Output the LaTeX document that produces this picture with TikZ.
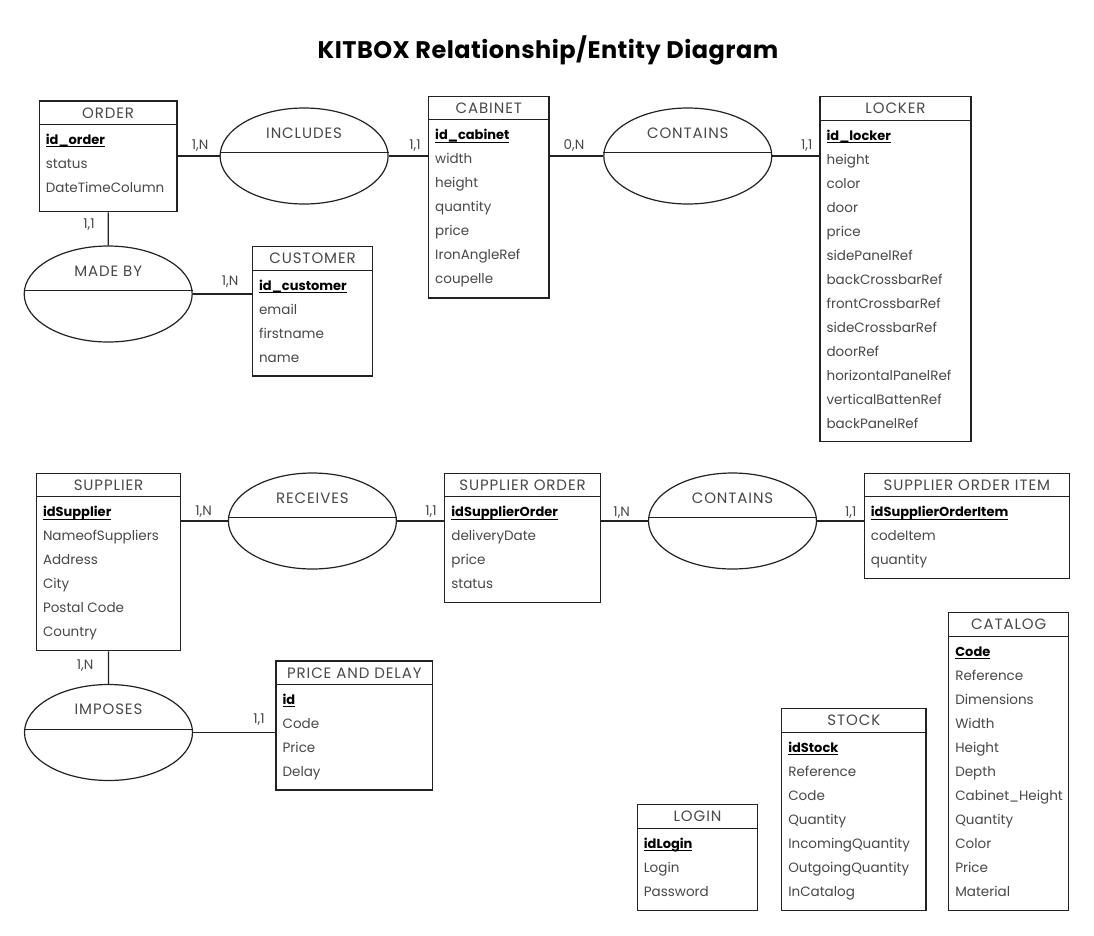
\documentclass[tikz,border=0pt]{standalone}
\usepackage{fontspec}
\setmainfont{Poppins}
\newfontfamily\hdrfont[LetterSpace=6]{Poppins}
\newfontfamily\ttlfont[LetterSpace=2]{Poppins}
\newsavebox{\keybox}
\newcommand{\keyul}[1]{\sbox{\keybox}{#1}\rlap{\rule[-2.8pt]{\wd\keybox}{1pt}}\usebox{\keybox}}
\usetikzlibrary{shapes.geometric}
\definecolor{txt}{HTML}{484848}
\definecolor{ln}{HTML}{222222}
\tikzset{
  ebox/.style={draw=ln, line width=1.2pt, inner sep=0pt},
  htext/.style={text=txt, font=\hdrfont\fontsize{15}{17}\selectfont, inner sep=0pt},
  atext/.style={text=txt, font=\fontsize{13.5}{15}\selectfont, inner sep=0pt, anchor=west, text height=9.5pt, text depth=2.5pt},
  ktext/.style={atext, text=black, font=\fontsize{13}{15}\selectfont\bfseries},
  rel/.style={ellipse, draw=ln, line width=1.2pt, minimum width=168pt, minimum height=96pt, inner sep=0pt},
  conn/.style={draw=ln, line width=1.2pt},
  card/.style={text=txt, font=\fontsize{13.5}{15}\selectfont, inner sep=0pt},
  reltext/.style={text=txt, font=\hdrfont\fontsize{15}{17}\selectfont, inner sep=0pt},
}
% #1 name, #2 x1, #3 y1, #4 x2, #5 y2, #6 header, #7 key, #8 attributes
\newcommand{\entity}[8]{%
  \node[ebox, minimum width={(#4-#2)*1pt}, minimum height={(#5-#3)*1pt}] (#1) at ({(#2+#4)/2},{(#3+#5)/2}) {};
  \draw[conn] ([yshift=-24pt]#1.north west) -- ([yshift=-24pt]#1.north east);
  \node[htext] (#1-h) at ([yshift=-12.5pt]#1.north) {#6};
  \node[ktext] (#1-k) at ([xshift=7pt,yshift=-40.5pt]#1.north west) {\keyul{#7}};
  \foreach \a [count=\i] in {#8} {
    \node[atext] (#1-\i) at ([xshift=7pt,yshift={-40.5pt-24pt*\i}]#1.north west) {\a};
  }
}
% #1 name, #2 cx, #3 cy, #4 label
\newcommand{\relation}[4]{%
  \node[rel] (#1) at (#2,#3) {};
  \draw[conn] ([yshift=3.4pt]#1.west) -- ([yshift=3.4pt]#1.east);
  \node[reltext] (#1-t) at (#2,{#3-23}) {#4};
}
\begin{document}
\begin{tikzpicture}[x=1pt, y=-1pt]
\fill[white] (0,0) rectangle (1094,935);
\useasboundingbox (0,0) rectangle (1094,935);

\node[font=\ttlfont\fontsize{24}{28}\selectfont\bfseries, text=black, inner sep=0pt] (title) at (548,50) {KITBOX Relationship/Entity Diagram};

\entity{order}{39.3}{101}{177}{211.7}{ORDER}{id\_order}{status,DateTimeColumn}
\entity{cabinet}{428.6}{96.3}{549}{298}{CABINET}{id\_cabinet}{width,height,quantity,price,IronAngleRef,coupelle}
\entity{locker}{820}{96.7}{971}{441.7}{LOCKER}{id\_locker}{height,color,door,price,sidePanelRef,backCrossbarRef,frontCrossbarRef,sideCrossbarRef,doorRef,horizontalPanelRef,verticalBattenRef,backPanelRef}
\entity{customer}{252.5}{246.7}{372.5}{376}{CUSTOMER}{id\_customer}{email,firstname,name}
\entity{supplier}{36.4}{473.3}{180.7}{650.7}{SUPPLIER}{idSupplier}{NameofSuppliers,Address,City,Postal Code,Country}
\entity{sorder}{444.8}{473.3}{600.2}{602.7}{SUPPLIER ORDER}{idSupplierOrder}{deliveryDate,price,status}
\entity{soitem}{864.3}{473.3}{1069.3}{578.7}{SUPPLIER ORDER ITEM}{idSupplierOrderItem}{codeItem,quantity}
\entity{pdelay}{276}{661}{432.6}{790}{PRICE AND DELAY}{id}{Code,Price,Delay}
\entity{login}{637.3}{804.7}{757.7}{910.3}{LOGIN}{idLogin}{Login,Password}
\entity{stock}{781.7}{708.7}{926}{910.3}{STOCK}{idStock}{Reference,Code,Quantity,IncomingQuantity,OutgoingQuantity,InCatalog}
\entity{catalog}{948.7}{612.7}{1068.7}{910.3}{CATALOG}{Code}{Reference,Dimensions,Width,Height,Depth,Cabinet\_Height,Quantity,Color,Price,Material}

\relation{includes}{304.1}{156}{INCLUDES}
\relation{contains}{687.8}{156}{CONTAINS}
\relation{madeby}{108.2}{294}{MADE BY}
\relation{receives}{312.4}{521}{RECEIVES}
\relation{contains2}{732.5}{521}{CONTAINS}
\relation{imposes}{108.5}{732.5}{IMPOSES}

\draw[conn] (includes.west) -- (includes.west -| order.east);
\draw[conn] (includes.east) -- (includes.east -| cabinet.west);
\draw[conn] (contains.west) -- (contains.west -| cabinet.east);
\draw[conn] (contains.east) -- (contains.east -| locker.west);
\draw[conn] (order.south) -- (madeby.north);
\draw[conn] (madeby.east) -- (madeby.east -| customer.west);
\draw[conn] (receives.west) -- (receives.west -| supplier.east);
\draw[conn] (receives.east) -- (receives.east -| sorder.west);
\draw[conn] (contains2.west) -- (contains2.west -| sorder.east);
\draw[conn] (contains2.east) -- (contains2.east -| soitem.west);
\draw[conn] (supplier.south) -- (imposes.north);
\draw[conn] (imposes.east) -- (imposes.east -| pdelay.west);

\node[card] (c1) at (200,146) {1,N};
\node[card] (c2) at (415,146) {1,1};
\node[card] (c3) at (574,146) {0,N};
\node[card] (c4) at (806.7,146) {1,1};
\node[card] (c5) at (89,225) {1,1};
\node[card] (c6) at (230,282) {1,N};
\node[card] (c7) at (203.6,511.7) {1,N};
\node[card] (c8) at (431,511.7) {1,1};
\node[card] (c9) at (621.7,512.7) {1,N};
\node[card] (c10) at (850.7,512.7) {1,1};
\node[card] (c11) at (85,665.7) {1,N};
\node[card] (c12) at (259,720) {1,1};
\end{tikzpicture}
\end{document}
